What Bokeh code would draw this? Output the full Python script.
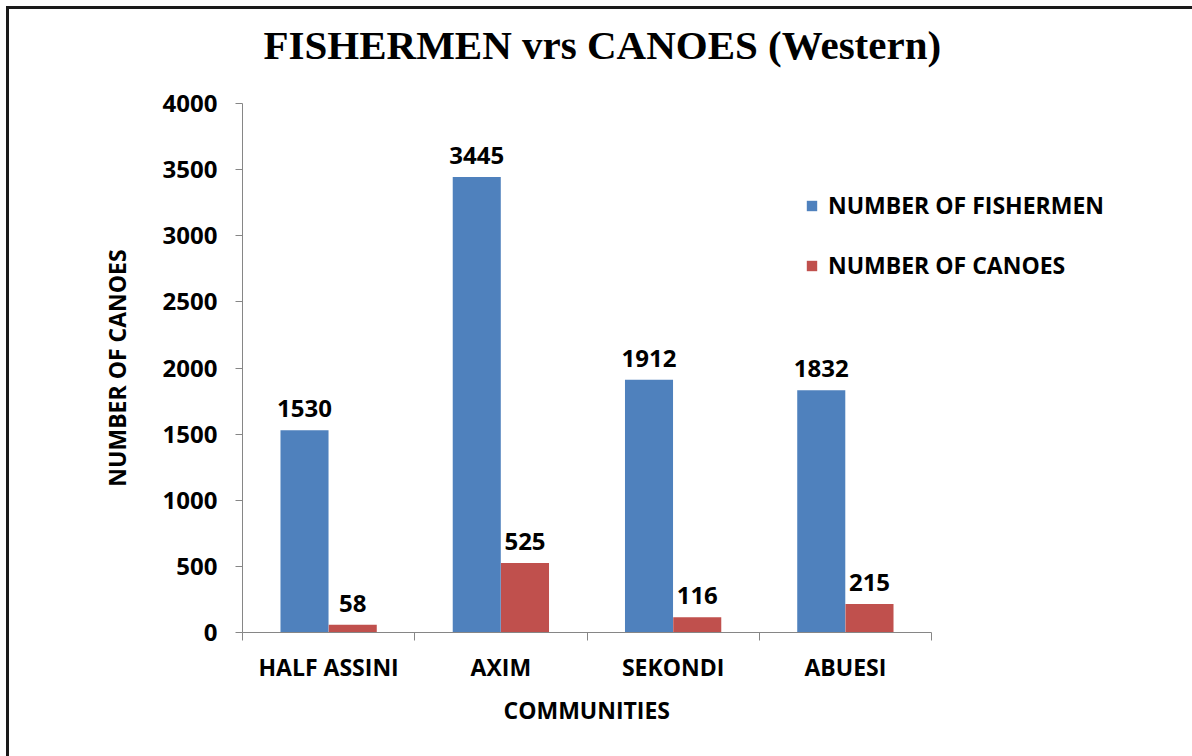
from bokeh.plotting import figure
from bokeh.models import (ColumnDataSource, FixedTicker, Legend, LegendItem, Range1d, Title)
from bokeh.transform import dodge
from bokeh.embed import file_html
from bokeh.resources import INLINE

# Survey figures for the western-region landing beaches
communities = ["HALF ASSINI", "AXIM", "SEKONDI", "ABUESI"]
fishermen = [1530, 3445, 1912, 1832]
canoes = [58, 525, 116, 215]
y_ticks = [0, 500, 1000, 1500, 2000, 2500, 3000, 3500, 4000]

BLUE = "#4F81BD"
RED = "#C0504D"
AXIS_GREY = "#868686"
FONT = "Open Sans"
TXT = "23px"
NUM = "24px"

# page frame: a thin dark rule on the top and left edges
EDGE = 6
RULE = 3
INSET = EDGE + RULE

# plot area geometry (the category axis covers AXIS_W px, the frame runs wider
# so the legend can sit to the right of the last group)
AXIS_W = 689
FRAME_W = 908
FRAME_H = 529
n = len(communities)

centres = [i + 0.5 for i in range(n)]
src = ColumnDataSource(dict(x=centres, fishermen=fishermen, canoes=canoes,
                            f_lbl=[str(v) for v in fishermen],
                            c_lbl=[str(v) for v in canoes]))

p = figure(width=1192 - INSET, height=756 - INSET, output_backend="svg",
           toolbar_location=None,
           x_range=Range1d(0, n * FRAME_W / AXIS_W), y_range=Range1d(0, 4000),
           min_border_left=242 - INSET, min_border_right=1192 - 242 - FRAME_W,
           min_border_top=103 - INSET, min_border_bottom=124)
p.frame_width = FRAME_W
p.frame_height = FRAME_H
p.outline_line_color = None
p.background_fill_color = "white"
p.border_fill_color = "white"
p.xgrid.visible = False
p.ygrid.visible = False
p.styles = {"margin-left": f"{EDGE}px", "margin-top": f"{EDGE}px",
            "border-left": f"{RULE}px solid #1a1a1a",
            "border-top": f"{RULE}px solid #1a1a1a"}

p.title.text = "FISHERMEN vrs CANOES (Western)"
p.title.text_font = "Liberation Serif"
p.title.text_font_size = "41px"
p.title.text_font_style = "bold"
p.title.text_color = "black"
p.title.align = "left"
p.title.offset = 21
p.title.vertical_align = "bottom"
p.title.standoff = 0

# blank strip between the title and the plot area
p.add_layout(Title(text=" ", text_font_size="1px", standoff=33), "above")

BW = 0.279
bf = p.vbar(x=dodge("x", -0.14, range=p.x_range), top="fishermen", width=BW,
            source=src, fill_color=BLUE, line_color=None)
bc = p.vbar(x=dodge("x", 0.14, range=p.x_range), top="canoes", width=BW,
            source=src, fill_color=RED, line_color=None)

for col, lbl, off in (("fishermen", "f_lbl", -0.14), ("canoes", "c_lbl", 0.14)):
    p.text(x=dodge("x", off, range=p.x_range), y=col, text=lbl, source=src,
           text_align="center", text_baseline="bottom", y_offset=-13,
           text_font={"value": FONT}, text_font_style="bold",
           text_font_size=NUM, text_color="black")

# y axis
ya = p.yaxis[0]
ya.ticker = FixedTicker(ticks=y_ticks)
ya.axis_line_color = AXIS_GREY
ya.major_tick_line_color = AXIS_GREY
ya.major_tick_out = 7
ya.major_tick_in = 0
ya.minor_tick_line_color = None
ya.major_label_text_font = FONT
ya.major_label_text_font_style = "bold"
ya.major_label_text_font_size = NUM
ya.major_label_text_color = "black"
ya.major_label_standoff = 18
ya.axis_label = "NUMBER OF CANOES"
ya.axis_label_text_font = FONT
ya.axis_label_text_font_style = "bold"
ya.axis_label_text_font_size = TXT
ya.axis_label_text_color = "black"
ya.axis_label_standoff = 27

# x axis: spans only the categories; labels at centres, ticks at boundaries
xa = p.xaxis[0]
xa.bounds = (0, n)
xa.ticker = FixedTicker(ticks=centres, minor_ticks=list(range(n + 1)))
xa.major_label_overrides = {c: name for c, name in zip(centres, communities)}
xa.axis_line_color = AXIS_GREY
xa.major_tick_line_color = None
xa.major_tick_out = 0
xa.major_tick_in = 0
xa.minor_tick_line_color = AXIS_GREY
xa.minor_tick_out = 8
xa.minor_tick_in = 0
xa.major_label_text_font = FONT
xa.major_label_text_font_style = "bold"
xa.major_label_text_font_size = TXT
xa.major_label_text_color = "black"
xa.major_label_standoff = 10

# category-axis title, centred under the four groups rather than the frame
p.add_layout(Title(text="COMMUNITIES", text_font=FONT, text_font_style="bold",
                   text_font_size=TXT, text_color="black", align="left",
                   offset=261, vertical_align="top", standoff=16), "below")

legend = Legend(items=[LegendItem(label="NUMBER OF FISHERMEN", renderers=[bf]),
                       LegendItem(label="NUMBER OF CANOES", renderers=[bc])],
                location=(563, 351), orientation="vertical",
                glyph_width=13, glyph_height=13, label_standoff=10,
                spacing=28, padding=0, margin=0,
                border_line_color=None, background_fill_alpha=0,
                label_text_font=FONT, label_text_font_style="bold",
                label_text_font_size=TXT, label_text_color="black")
p.add_layout(legend, "center")

open("out.html", "w").write(file_html(p, INLINE))
